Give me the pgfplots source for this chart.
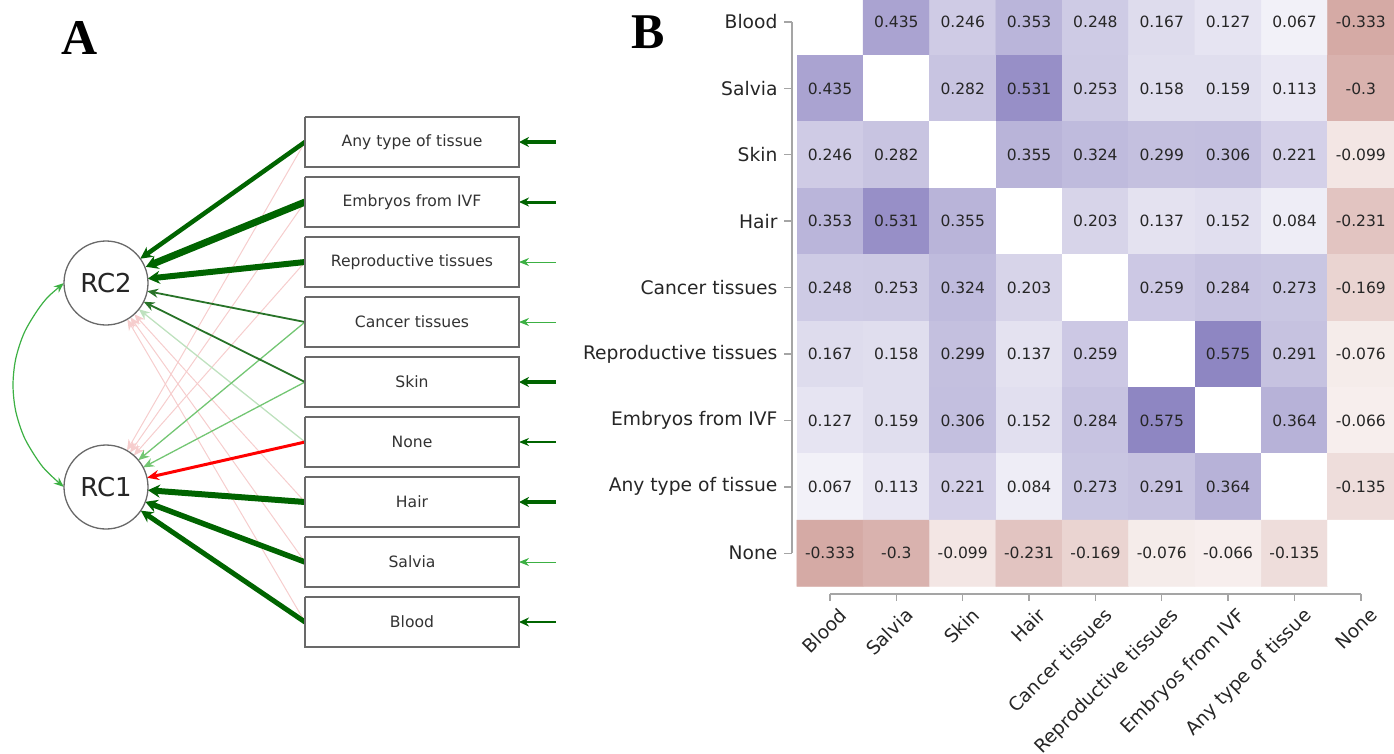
\documentclass[border=0pt]{standalone}
\usepackage{pgfplots}
\pgfplotsset{compat=1.18}
\usepackage{pgfplotstable}
\usepackage{fontspec}
\setmainfont{DejaVu Sans}
\newfontfamily\panelfont{Liberation Serif}
\usetikzlibrary{arrows.meta}

\definecolor{dg}{RGB}{0,100,0}
\definecolor{mg}{RGB}{40,115,40}
\definecolor{lg}{RGB}{60,176,67}
\definecolor{llg}{RGB}{115,198,115}
\definecolor{fg}{RGB}{190,225,190}
\definecolor{pk}{RGB}{246,205,205}
\definecolor{boxc}{RGB}{105,105,105}
\definecolor{txt}{RGB}{51,51,51}
\definecolor{spine}{RGB}{165,165,165}
\definecolor{celltxt}{RGB}{38,38,38}

\pgfplotstableread{
x y c lab
0 0 0 {}
1 0 0.435 0.435
2 0 0.246 0.246
3 0 0.353 0.353
4 0 0.248 0.248
5 0 0.167 0.167
6 0 0.127 0.127
7 0 0.067 0.067
8 0 -0.333 -0.333
0 1 0.435 0.435
1 1 0 {}
2 1 0.282 0.282
3 1 0.531 0.531
4 1 0.253 0.253
5 1 0.158 0.158
6 1 0.159 0.159
7 1 0.113 0.113
8 1 -0.3 -0.3
0 2 0.246 0.246
1 2 0.282 0.282
2 2 0 {}
3 2 0.355 0.355
4 2 0.324 0.324
5 2 0.299 0.299
6 2 0.306 0.306
7 2 0.221 0.221
8 2 -0.099 -0.099
0 3 0.353 0.353
1 3 0.531 0.531
2 3 0.355 0.355
3 3 0 {}
4 3 0.203 0.203
5 3 0.137 0.137
6 3 0.152 0.152
7 3 0.084 0.084
8 3 -0.231 -0.231
0 4 0.248 0.248
1 4 0.253 0.253
2 4 0.324 0.324
3 4 0.203 0.203
4 4 0 {}
5 4 0.259 0.259
6 4 0.284 0.284
7 4 0.273 0.273
8 4 -0.169 -0.169
0 5 0.167 0.167
1 5 0.158 0.158
2 5 0.299 0.299
3 5 0.137 0.137
4 5 0.259 0.259
5 5 0 {}
6 5 0.575 0.575
7 5 0.291 0.291
8 5 -0.076 -0.076
0 6 0.127 0.127
1 6 0.159 0.159
2 6 0.306 0.306
3 6 0.152 0.152
4 6 0.284 0.284
5 6 0.575 0.575
6 6 0 {}
7 6 0.364 0.364
8 6 -0.066 -0.066
0 7 0.067 0.067
1 7 0.113 0.113
2 7 0.221 0.221
3 7 0.084 0.084
4 7 0.273 0.273
5 7 0.291 0.291
6 7 0.364 0.364
7 7 0 {}
8 7 -0.135 -0.135
0 8 -0.333 -0.333
1 8 -0.3 -0.3
2 8 -0.099 -0.099
3 8 -0.231 -0.231
4 8 -0.169 -0.169
5 8 -0.076 -0.076
6 8 -0.066 -0.066
7 8 -0.135 -0.135
8 8 0 {}
}\corrtable

\begin{document}
\begin{tikzpicture}
% ---------------- Panel A (pixel coordinates) ----------------
\begin{axis}[name=A, at={(0pt,0pt)}, anchor=north west,
  scale only axis, width=1394pt, height=754pt,
  xmin=0, xmax=1394, ymin=0, ymax=754, y dir=reverse,
  hide axis, clip=false]
% faint pink cross loadings
\addplot[pk, line width=1pt, -{Stealth[length=11pt,width=9pt]}] coordinates {(305,502) (134.2,314.1)};
\addplot[pk, line width=1pt, -{Stealth[length=11pt,width=9pt]}] coordinates {(305,562) (130.4,317.2)};
\addplot[pk, line width=1pt, -{Stealth[length=11pt,width=9pt]}] coordinates {(305,622) (127.3,319.2)};
\addplot[pk, line width=1pt, -{Stealth[length=11pt,width=9pt]}] coordinates {(305,142) (127.0,450.6)};
\addplot[pk, line width=1pt, -{Stealth[length=11pt,width=9pt]}] coordinates {(305,202) (130.0,452.6)};
\addplot[pk, line width=1pt, -{Stealth[length=11pt,width=9pt]}] coordinates {(305,262) (133.8,455.5)};
% light green loadings
\addplot[fg, line width=1.3pt, -{Stealth[length=11pt,width=9pt]}] coordinates {(305,442) (138.8,309.2)};
\addplot[llg, line width=1.3pt, -{Stealth[length=11pt,width=9pt]}] coordinates {(305,322) (138.3,460.2)};
\addplot[llg, line width=1.3pt, -{Stealth[length=11pt,width=9pt]}] coordinates {(305,382) (143.1,467.4)};
% strong loadings on RC2
\addplot[dg, line width=4.5pt, -{Stealth[length=12pt,width=12pt]}] coordinates {(305,142) (140.3,258.7)};
\addplot[dg, line width=7pt, -{Stealth[length=12pt,width=14pt]}] coordinates {(305,202) (145.8,266.8)};
\addplot[dg, line width=6pt, -{Stealth[length=12pt,width=13pt]}] coordinates {(305,262) (147.8,278.6)};
\addplot[mg, line width=1.8pt, -{Stealth[length=11pt,width=9pt]}] coordinates {(305,322) (147.2,291.1)};
\addplot[mg, line width=1.8pt, -{Stealth[length=11pt,width=9pt]}] coordinates {(305,382) (143.6,301.7)};
% strong loadings on RC1
\addplot[red, line width=3pt, -{Stealth[length=12pt,width=10pt]}] coordinates {(305,442) (147.0,477.7)};
\addplot[dg, line width=6pt, -{Stealth[length=12pt,width=13pt]}] coordinates {(305,502) (147.9,490.2)};
\addplot[dg, line width=5.5pt, -{Stealth[length=12pt,width=13pt]}] coordinates {(305,562) (145.3,501.8)};
\addplot[dg, line width=5pt, -{Stealth[length=12pt,width=12pt]}] coordinates {(305,622) (140.8,510.6)};
% residual arrows
\addplot[dg, line width=4pt, -{Stealth[length=10pt,width=10pt]}] coordinates {(556,142) (519,142)};
\addplot[dg, line width=3pt, -{Stealth[length=10pt,width=9pt]}] coordinates {(556,202) (519,202)};
\addplot[lg, line width=1pt, -{Stealth[length=10pt,width=8pt]}] coordinates {(556,262) (519,262)};
\addplot[lg, line width=1pt, -{Stealth[length=10pt,width=8pt]}] coordinates {(556,322) (519,322)};
\addplot[dg, line width=4pt, -{Stealth[length=10pt,width=10pt]}] coordinates {(556,382) (519,382)};
\addplot[dg, line width=2pt, -{Stealth[length=10pt,width=8pt]}] coordinates {(556,442) (519,442)};
\addplot[dg, line width=4pt, -{Stealth[length=10pt,width=10pt]}] coordinates {(556,502) (519,502)};
\addplot[lg, line width=1pt, -{Stealth[length=10pt,width=8pt]}] coordinates {(556,562) (519,562)};
\addplot[dg, line width=2.5pt, -{Stealth[length=10pt,width=9pt]}] coordinates {(556,622) (519,622)};
% covariance
\addplot[lg, line width=1.2pt, smooth, {Stealth[length=10pt,width=8pt]}-{Stealth[length=10pt,width=8pt]}]
  coordinates {(63.8,283.1) (42.8,303) (25,331.1) (15.8,358.5) (13,385) (15.8,411.5) (25,438.9) (42.8,467) (63.8,486.9)};
% boxes
\addplot[boxc, fill=white, line width=1.3pt] coordinates {(305,117) (519,117) (519,167) (305,167) (305,117)};
\addplot[boxc, fill=white, line width=1.3pt] coordinates {(305,177) (519,177) (519,227) (305,227) (305,177)};
\addplot[boxc, fill=white, line width=1.3pt] coordinates {(305,237) (519,237) (519,287) (305,287) (305,237)};
\addplot[boxc, fill=white, line width=1.3pt] coordinates {(305,297) (519,297) (519,347) (305,347) (305,297)};
\addplot[boxc, fill=white, line width=1.3pt] coordinates {(305,357) (519,357) (519,407) (305,407) (305,357)};
\addplot[boxc, fill=white, line width=1.3pt] coordinates {(305,417) (519,417) (519,467) (305,467) (305,417)};
\addplot[boxc, fill=white, line width=1.3pt] coordinates {(305,477) (519,477) (519,527) (305,527) (305,477)};
\addplot[boxc, fill=white, line width=1.3pt] coordinates {(305,537) (519,537) (519,587) (305,587) (305,537)};
\addplot[boxc, fill=white, line width=1.3pt] coordinates {(305,597) (519,597) (519,647) (305,647) (305,597)};
% latent circles with their names
\addplot[only marks, mark=*, mark size=42pt, mark options={fill=white, draw=boxc, line width=1.3pt},
  nodes near coords, point meta=explicit symbolic, nodes near coords align={center},
  every node near coord/.append style={font=\fontsize{26}{30}\selectfont, text=black!85, anchor=center}]
  coordinates {(106,283) [RC2] (106,487) [RC1]};
% texts
\begin{scope}[every node/.style={font=\fontsize{15.6}{18}\selectfont, text=txt}]
\node at (axis cs:412,142) {Any type of tissue};
\node at (axis cs:412,202) {Embryos from IVF};
\node at (axis cs:412,262) {Reproductive tissues};
\node at (axis cs:412,322) {Cancer tissues};
\node at (axis cs:412,382) {Skin};
\node at (axis cs:412,442) {None};
\node at (axis cs:412,502) {Hair};
\node at (axis cs:412,562) {Salvia};
\node at (axis cs:412,622) {Blood};
\end{scope}
\node[font=\panelfont\bfseries\fontsize{50}{50}\selectfont] at (axis cs:80,38) {A};
\node[font=\panelfont\bfseries\fontsize{50}{50}\selectfont] at (axis cs:648,32) {B};
\end{axis}

% ---------------- Panel B heatmap ----------------
\begin{axis}[name=B, at={(784pt,0pt)}, anchor=north west,
  scale only axis, width=610pt, height=601pt,
  xmin=-0.693, xmax=8.5, ymin=-0.331, ymax=8.72, y dir=reverse,
  axis line style={draw=none}, major tick length=0pt, tick style={draw=none},
  xtick={0,...,8}, ytick={0,...,8},
  xticklabels={Blood,Salvia,Skin,Hair,Cancer tissues,Reproductive tissues,Embryos from IVF,Any type of tissue,None},
  yticklabels={Blood,Salvia,Skin,Hair,Cancer tissues,Reproductive tissues,Embryos from IVF,Any type of tissue,None},
  tick label style={font=\fontsize{18.7}{22}\selectfont, text=celltxt},
  yticklabel style={xshift=-3pt},
  xticklabel style={rotate=45, anchor=north east, xshift=5pt, yshift=-6pt},
  colormap={corr}{rgb255(0pt)=(213,170,165); rgb255(333pt)=(255,255,255); rgb255(908pt)=(142,134,194)},
  point meta min=-0.333, point meta max=0.575,
  unbounded coords=jump]
\addplot[matrix plot*, mesh/cols=9, point meta=explicit] table[x=x, y=y, meta=c] {\corrtable};
\addplot[draw=none, mark=none, nodes near coords, point meta=explicit symbolic,
  nodes near coords align={center},
  every node near coord/.append style={font=\fontsize{15.5}{18}\selectfont, text=celltxt, anchor=center}]
  table[x=x, y=y, meta=lab] {\corrtable};
% spines
\addplot[spine, line width=1.4pt] coordinates {(-0.573,0) (-0.573,8)};
\addplot[spine, line width=1.4pt] coordinates {(-0.693,0) (-0.573,0) (nan,nan) (-0.693,1) (-0.573,1) (nan,nan) (-0.693,2) (-0.573,2) (nan,nan) (-0.693,3) (-0.573,3) (nan,nan) (-0.693,4) (-0.573,4) (nan,nan) (-0.693,5) (-0.573,5) (nan,nan) (-0.693,6) (-0.573,6) (nan,nan) (-0.693,7) (-0.573,7) (nan,nan) (-0.693,8) (-0.573,8)};
\addplot[spine, line width=1.4pt] coordinates {(0,8.614) (8,8.614)};
\addplot[spine, line width=1.4pt] coordinates {(0,8.614) (0,8.72) (nan,nan) (1,8.614) (1,8.72) (nan,nan) (2,8.614) (2,8.72) (nan,nan) (3,8.614) (3,8.72) (nan,nan) (4,8.614) (4,8.72) (nan,nan) (5,8.614) (5,8.72) (nan,nan) (6,8.614) (6,8.72) (nan,nan) (7,8.614) (7,8.72) (nan,nan) (8,8.614) (8,8.72)};
\end{axis}
\pgfresetboundingbox
\path (A.north west) rectangle (A.south east);
\end{tikzpicture}
\end{document}
